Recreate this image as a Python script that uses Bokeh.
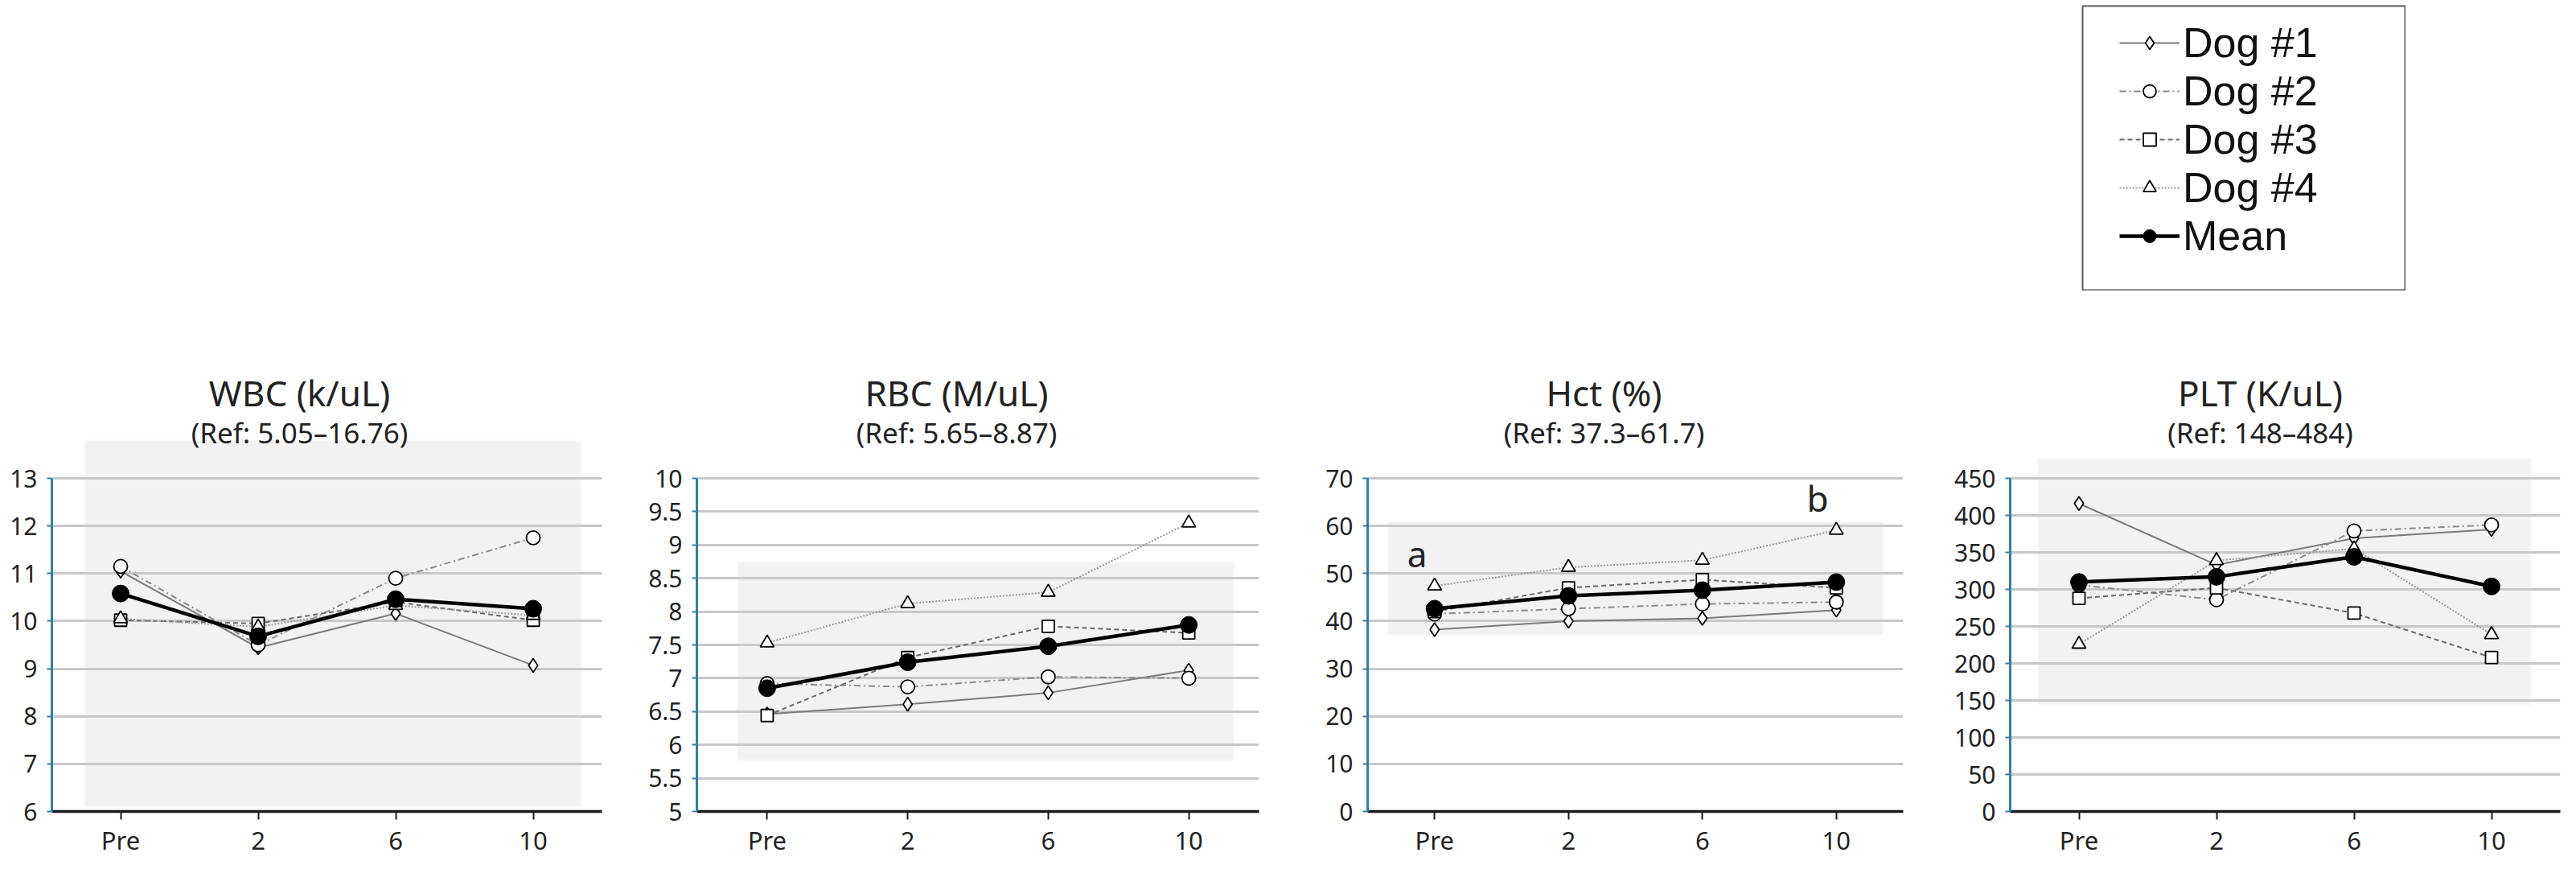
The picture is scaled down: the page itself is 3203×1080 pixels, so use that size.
from bokeh.plotting import figure
from bokeh.models import Range1d, FixedTicker, Label, Legend, LegendItem, Spacer
from bokeh.layouts import column, row
from bokeh.embed import file_html
from bokeh.resources import INLINE
from bokeh.core.properties import value

FONT = "Noto Sans"
LEGEND_FONT = "Liberation Sans"

# ---------------- data ----------------
timepoints = ["Pre", "2", "6", "10"]
series_names = ["Dog #1", "Dog #2", "Dog #3", "Dog #4", "Mean"]

panel_titles = ["WBC (k/uL)", "RBC (M/uL)", "Hct (%)", "PLT (K/uL)"]
panel_refs = ["(Ref: 5.05\u201316.76)", "(Ref: 5.65\u20138.87)", "(Ref: 37.3\u201361.7)", "(Ref: 148\u2013484)"]

wbc_dog1 = [11.05, 9.44, 10.16, 9.07]
wbc_dog2 = [11.15, 9.50, 10.90, 11.75]
wbc_dog3 = [10.02, 9.95, 10.40, 10.02]
wbc_dog4 = [10.05, 9.88, 10.33, 10.12]
wbc_mean = [10.58, 9.68, 10.46, 10.26]

rbc_dog1 = [6.46, 6.61, 6.78, 7.12]
rbc_dog2 = [6.92, 6.87, 7.02, 7.00]
rbc_dog3 = [6.44, 7.31, 7.78, 7.68]
rbc_dog4 = [7.53, 8.12, 8.29, 9.33]
rbc_mean = [6.85, 7.24, 7.48, 7.80]

hct_dog1 = [38.2, 40.0, 40.6, 42.3]
hct_dog2 = [41.5, 42.6, 43.6, 44.0]
hct_dog3 = [42.0, 47.0, 48.7, 47.0]
hct_dog4 = [47.4, 51.3, 52.8, 59.1]
hct_mean = [42.6, 45.3, 46.5, 48.2]

plt_dog1 = [416, 333, 369, 381]
plt_dog2 = [306, 286, 379, 387]
plt_dog3 = [288, 302, 268, 208]
plt_dog4 = [226, 339, 355, 239]
plt_mean = [310, 317, 344, 304]

wbc_ticks = [6, 7, 8, 9, 10, 11, 12, 13]
wbc_tick_labels = ["6", "7", "8", "9", "10", "11", "12", "13"]
rbc_ticks = [5, 5.5, 6, 6.5, 7, 7.5, 8, 8.5, 9, 9.5, 10]
rbc_tick_labels = ["5", "5.5", "6", "6.5", "7", "7.5", "8", "8.5", "9", "9.5", "10"]
hct_ticks = [0, 10, 20, 30, 40, 50, 60, 70]
hct_tick_labels = ["0", "10", "20", "30", "40", "50", "60", "70"]
plt_ticks = [0, 50, 100, 150, 200, 250, 300, 350, 400, 450]
plt_tick_labels = ["0", "50", "100", "150", "200", "250", "300", "350", "400", "450"]

# shaded reference-range boxes as drawn (bottom, top)
ref_box_low = [6.1, 5.77, 37.1, 144]
ref_box_high = [13.8, 8.75, 61.0, 477]

# letters on the Hct panel
hct_letters = ["a", "b"]
hct_letter_x = ["Pre", "10"]
hct_letter_y = [54.2, 65.8]

panel_series = [
    [wbc_dog1, wbc_dog2, wbc_dog3, wbc_dog4, wbc_mean],
    [rbc_dog1, rbc_dog2, rbc_dog3, rbc_dog4, rbc_mean],
    [hct_dog1, hct_dog2, hct_dog3, hct_dog4, hct_mean],
    [plt_dog1, plt_dog2, plt_dog3, plt_dog4, plt_mean],
]
panel_ticks = [wbc_ticks, rbc_ticks, hct_ticks, plt_ticks]
panel_tick_labels = [wbc_tick_labels, rbc_tick_labels, hct_tick_labels, plt_tick_labels]

# ---------------- styles / layout ----------------
TICK_SPAN_PX = 414       # pixel distance from lowest to highest tick
TOP_PAD_PX = 137         # room above the top tick (titles live there)
FRAME_H = TICK_SPAN_PX + TOP_PAD_PX
frame_w = [684, 699, 666, 684]
border_l = [64, 84, 88, 87]
border_r = [34, 47, 46, 4]
title_cx = [308, 323, 294, 311]      # title centre, px from frame left
TITLE_Y = TICK_SPAN_PX + 107         # px above frame bottom
SUB_Y = TICK_SPAN_PX + 57
box_x_off = [(-0.26, 0.35), (-0.21, 0.32), (-0.35, 0.35), (-0.30, 0.29)]

styles = [
    dict(line_color="#7a7a7a", line_width=2, line_dash="solid", marker="diamond", size=17),
    dict(line_color="#8a8a8a", line_width=2, line_dash="8 4 2 4", marker="circle", size=17),
    dict(line_color="#6a6a6a", line_width=2, line_dash="6 4", marker="square", size=15),
    dict(line_color="#9a9a9a", line_width=2, line_dash="2 2", marker="triangle", size=17),
]
mean_style = dict(line_color="black", line_width=4.5, marker="circle", size=21)

AXIS_BLUE = "#2f7fa8"
TXT = "#222222"


def make_panel(i):
    ticks = panel_ticks[i]
    lo, hi = ticks[0], ticks[-1]
    span = hi - lo
    y_end = hi + span * TOP_PAD_PX / TICK_SPAN_PX
    p = figure(x_range=timepoints, y_range=Range1d(lo, y_end),
               frame_width=frame_w[i], frame_height=FRAME_H,
               min_border_left=border_l[i], min_border_right=border_r[i],
               min_border_top=96, min_border_bottom=56,
               output_backend="svg", toolbar_location=None)
    p.outline_line_color = None
    p.background_fill_color = "white"

    # reference range shading (beneath the grid)
    p.quad(left=[(timepoints[0], box_x_off[i][0])], right=[(timepoints[-1], box_x_off[i][1])],
           bottom=[ref_box_low[i]], top=[ref_box_high[i]],
           fill_color="#f2f2f2", line_color="#fafafa", line_width=2, level="image")

    data = panel_series[i]
    for k in range(4):
        st = styles[k]
        p.line(x=timepoints, y=data[k], line_color=st["line_color"], line_width=st["line_width"],
               line_dash=st["line_dash"])
    for k in range(4):
        st = styles[k]
        p.scatter(x=timepoints, y=data[k], marker=st["marker"], size=st["size"],
                  fill_color="white", line_color="black", line_width=1.8)
    p.line(x=timepoints, y=data[4], line_color=mean_style["line_color"], line_width=mean_style["line_width"])
    p.scatter(x=timepoints, y=data[4], marker="circle", size=mean_style["size"],
              fill_color="black", line_color="black")

    if i == 2:
        p.text(x=[(hct_letter_x[0], -0.13), (hct_letter_x[1], -0.14)], y=hct_letter_y, text=hct_letters,
               text_font=value(FONT), text_font_size="44px", text_color=TXT,
               text_align="center", text_baseline="alphabetic")

    # axes
    yaxis = p.yaxis[0]
    yaxis.ticker = FixedTicker(ticks=ticks)
    yaxis.bounds = (lo, hi)
    yaxis.major_label_overrides = {t: lab for t, lab in zip(ticks, panel_tick_labels[i])}
    yaxis.axis_line_color = AXIS_BLUE
    yaxis.axis_line_width = 3
    yaxis.major_tick_line_color = AXIS_BLUE
    yaxis.major_tick_line_width = 2
    yaxis.major_tick_out = 6
    yaxis.major_tick_in = 0
    yaxis.minor_tick_line_color = None
    yaxis.major_label_standoff = 12
    yaxis.major_label_text_font = FONT
    yaxis.major_label_text_font_size = "30px"
    yaxis.major_label_text_color = TXT

    xaxis = p.xaxis[0]
    xaxis.axis_line_color = "#1a1a1a"
    xaxis.axis_line_width = 3.5
    xaxis.major_tick_line_color = "#1a1a1a"
    xaxis.major_tick_line_width = 2
    xaxis.major_tick_out = 10
    xaxis.major_tick_in = 0
    xaxis.major_label_standoff = 4
    xaxis.major_label_text_font = FONT
    xaxis.major_label_text_font_size = "31px"
    xaxis.major_label_text_color = TXT

    p.xgrid.visible = False
    p.ygrid.ticker = FixedTicker(ticks=ticks)
    p.ygrid.grid_line_color = "#c8c8c8"
    p.ygrid.grid_line_width = 3

    main = Label(x=title_cx[i], y=TITLE_Y, x_units="screen", y_units="screen",
                 text=panel_titles[i], text_align="center", text_baseline="middle",
                 text_font=FONT, text_font_size="44px", text_color=TXT)
    sub = Label(x=title_cx[i], y=SUB_Y, x_units="screen", y_units="screen",
                text=panel_refs[i], text_align="center", text_baseline="middle",
                text_font=FONT, text_font_size="35px", text_color=TXT)
    p.add_layout(main)
    p.add_layout(sub)
    return p


panels = [make_panel(i) for i in range(4)]

# ---------------- legend box ----------------
lf = figure(width=403, height=355, x_range=Range1d(0, 1), y_range=Range1d(0, 1),
            x_axis_location=None, y_axis_location=None, min_border=1,
            output_backend="svg", toolbar_location=None)
lf.grid.visible = False
lf.outline_line_color = "#595959"
lf.outline_line_width = 2

# one off-screen point per swatch so the legend has something to draw from
hidden_x = [-5]
hidden_y = [-5]
items = []
for k in range(4):
    st = styles[k]
    lr = lf.line(x=hidden_x, y=hidden_y, line_color=st["line_color"], line_width=st["line_width"],
                 line_dash=st["line_dash"])
    sr = lf.scatter(x=hidden_x, y=hidden_y, marker=st["marker"], size=st["size"], fill_color="white",
                    line_color="black", line_width=1.8)
    items.append(LegendItem(label=series_names[k], renderers=[lr, sr]))
lr = lf.line(x=hidden_x, y=hidden_y, line_color="black", line_width=mean_style["line_width"])
sr = lf.scatter(x=hidden_x, y=hidden_y, marker="circle", size=mean_style["size"], fill_color="black",
                line_color="black")
items.append(LegendItem(label=series_names[4], renderers=[lr, sr]))

legend = Legend(items=items, location=(46, 37), glyph_width=75, glyph_height=40, label_height=58,
                spacing=0, padding=0, margin=0, border_line_color=None, background_fill_alpha=0,
                label_text_font=LEGEND_FONT, label_text_font_size="52px", label_text_color="#111111",
                label_standoff=4)
lf.add_layout(legend)

layout = column(
    Spacer(height=6),
    row(Spacer(width=2588), lf),
    row(*panels),
)

open("out.html", "w").write(file_html(layout, INLINE))
